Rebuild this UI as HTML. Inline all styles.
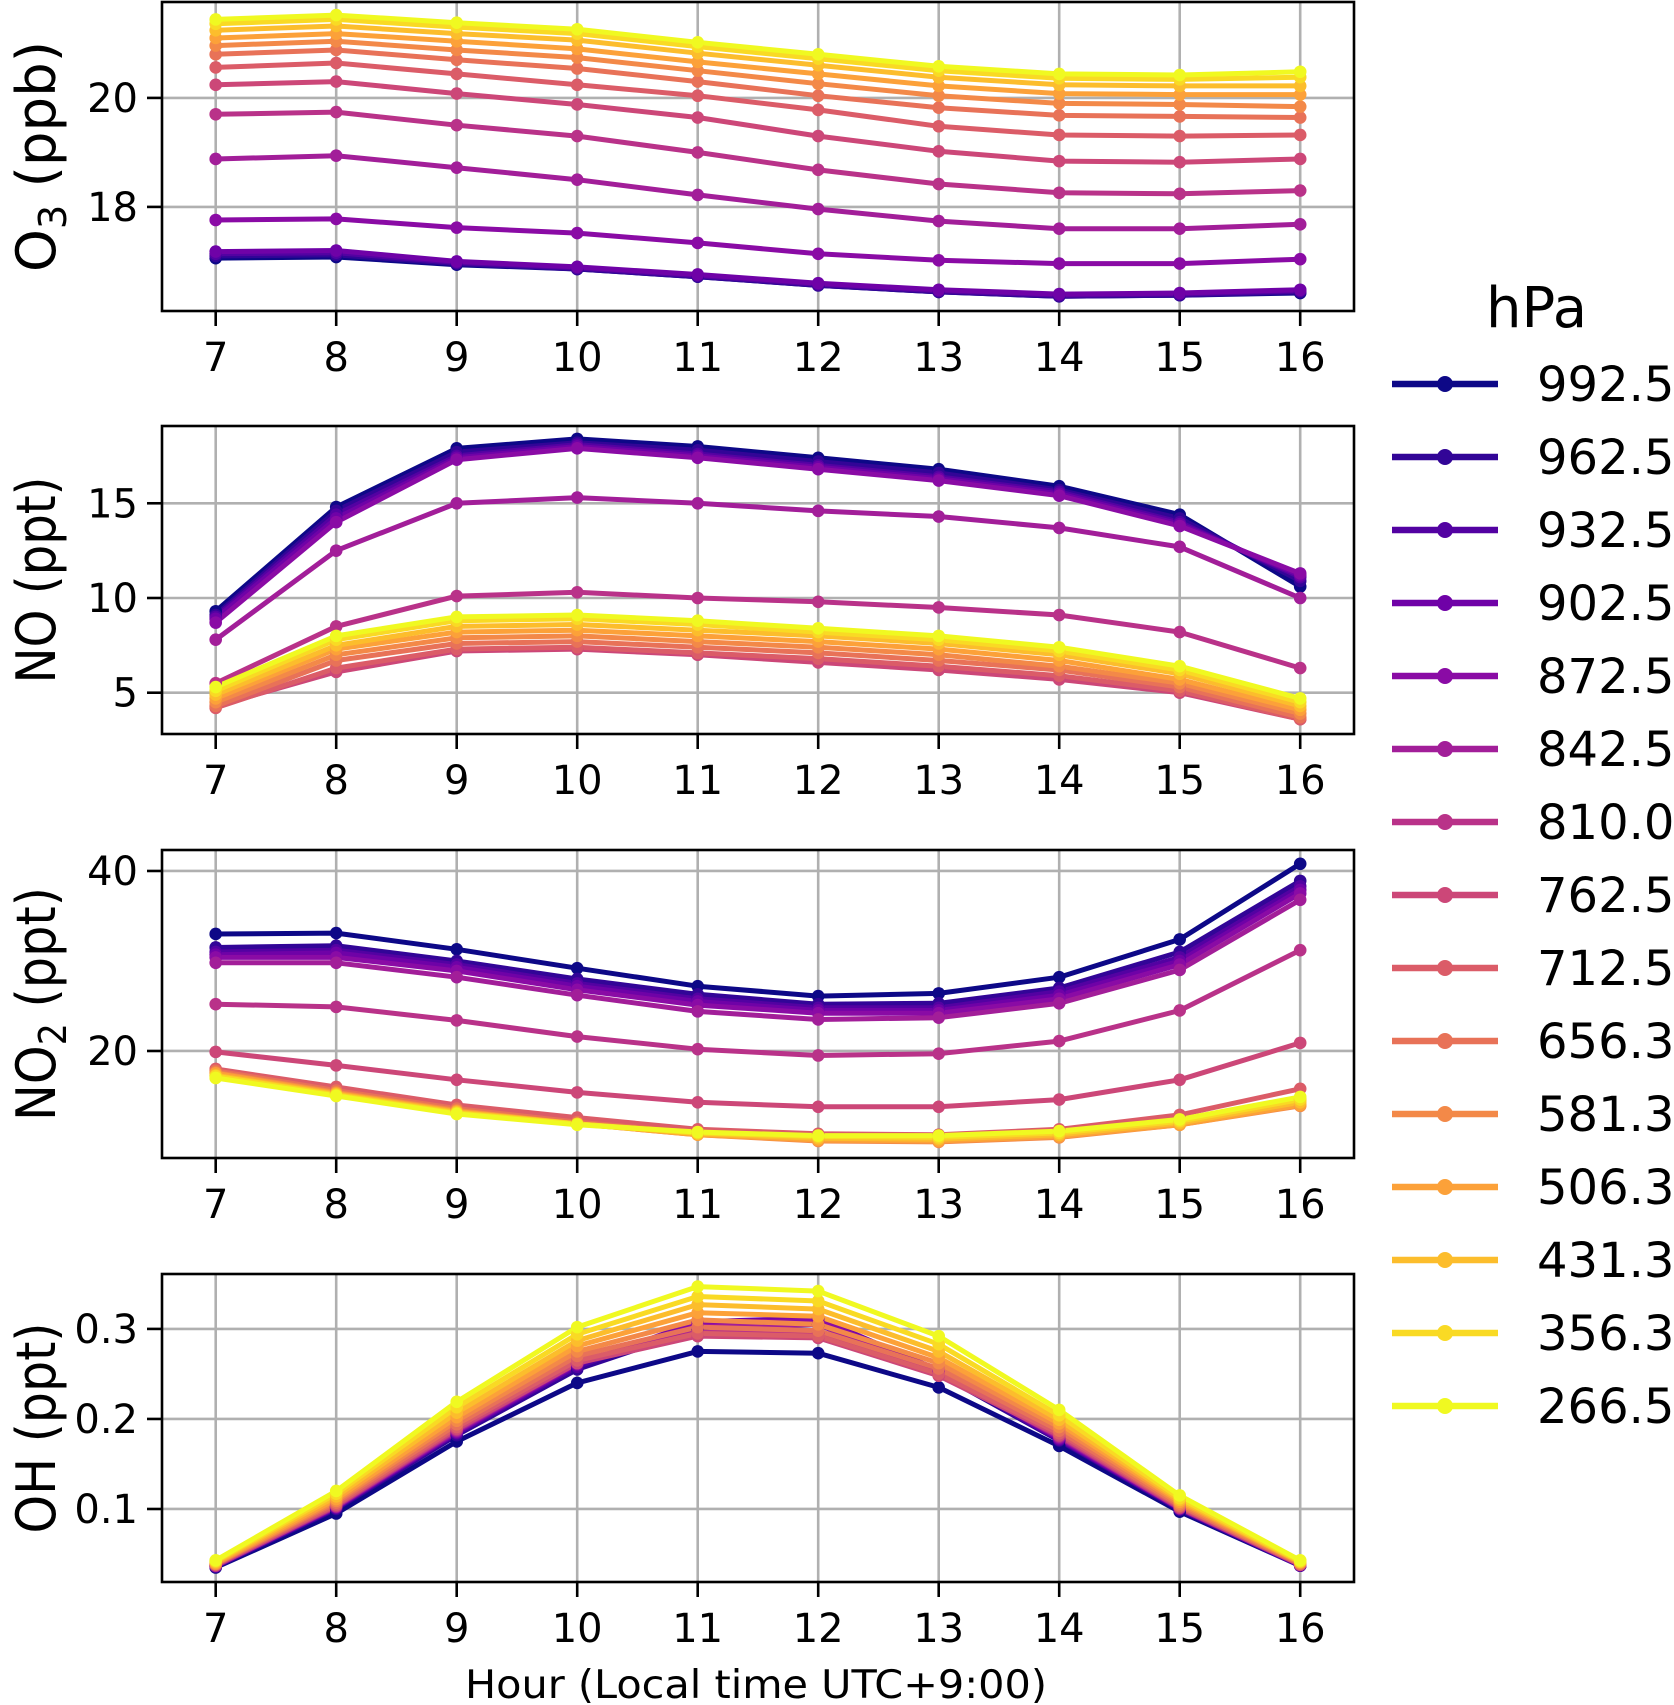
<!DOCTYPE html>
<html><head><meta charset="utf-8"><style>
html,body{margin:0;padding:0;background:#fff;}
svg{display:block;font-family:"DejaVu Sans","Liberation Sans",sans-serif;}
</style></head><body>
<svg id="fig" width="1674" height="1705" viewBox="0 0 1674 1705" xmlns="http://www.w3.org/2000/svg"></svg>
<script>
const hours = [7,8,9,10,11,12,13,14,15,16];
const levels = ["992.5","962.5","932.5","902.5","872.5","842.5","810.0","762.5","712.5","656.3","581.3","506.3","431.3","356.3","266.5"];
const colors = ["#0d0887","#320597","#5302a2","#6f02a7","#8a0ba5","#a21e99","#b93289","#cc4778","#db5c68","#e87258","#f38948","#fca139","#fcbd2c","#f9da24","#f0f921"];
const o3Values = [
 [17.06,17.08,16.94,16.86,16.72,16.56,16.44,16.36,16.38,16.42],
 [17.10,17.12,16.96,16.86,16.72,16.56,16.44,16.36,16.38,16.44],
 [17.14,17.16,16.98,16.88,16.74,16.58,16.46,16.38,16.40,16.46],
 [17.18,17.20,17.00,16.90,16.76,16.60,16.48,16.40,16.42,16.48],
 [17.76,17.78,17.62,17.52,17.34,17.14,17.02,16.96,16.96,17.04],
 [18.88,18.94,18.72,18.50,18.22,17.96,17.74,17.60,17.60,17.68],
 [19.70,19.74,19.50,19.30,19.00,18.68,18.42,18.26,18.24,18.30],
 [20.24,20.30,20.08,19.88,19.64,19.30,19.02,18.84,18.82,18.88],
 [20.56,20.64,20.44,20.24,20.04,19.78,19.48,19.32,19.30,19.32],
 [20.80,20.88,20.70,20.54,20.30,20.04,19.82,19.68,19.66,19.64],
 [20.96,21.04,20.88,20.74,20.50,20.26,20.04,19.90,19.88,19.84],
 [21.10,21.18,21.04,20.90,20.66,20.44,20.22,20.08,20.06,20.06],
 [21.24,21.32,21.18,21.06,20.82,20.60,20.38,20.24,20.22,20.22],
 [21.36,21.44,21.30,21.18,20.94,20.72,20.50,20.36,20.34,20.38],
 [21.44,21.52,21.38,21.26,21.02,20.80,20.58,20.44,20.42,20.48]
];
const noValues = [
 [9.3,14.8,17.9,18.4,18.0,17.4,16.8,15.9,14.4,10.6],
 [9.1,14.6,17.7,18.2,17.8,17.2,16.6,15.7,14.2,10.9],
 [9.0,14.4,17.5,18.1,17.6,17.0,16.4,15.6,14.0,11.1],
 [8.9,14.2,17.4,18.0,17.5,16.9,16.3,15.5,13.9,11.2],
 [8.7,14.0,17.3,17.9,17.4,16.8,16.2,15.4,13.8,11.3],
 [7.8,12.5,15.0,15.3,15.0,14.6,14.3,13.7,12.7,10.0],
 [5.5,8.5,10.1,10.3,10.0,9.8,9.5,9.1,8.2,6.3],
 [4.3,6.1,7.2,7.3,7.0,6.6,6.2,5.7,5.0,3.6],
 [4.2,6.3,7.3,7.4,7.1,6.8,6.4,5.9,5.1,3.6],
 [4.3,6.7,7.6,7.7,7.4,7.1,6.7,6.2,5.3,3.7],
 [4.5,7.0,7.9,8.0,7.7,7.4,7.0,6.4,5.5,3.9],
 [4.7,7.3,8.2,8.3,8.0,7.7,7.3,6.7,5.7,4.1],
 [4.9,7.5,8.5,8.6,8.3,8.0,7.6,7.0,6.0,4.3],
 [5.1,7.8,8.8,8.9,8.6,8.2,7.8,7.2,6.2,4.5],
 [5.3,8.0,9.0,9.1,8.8,8.4,8.0,7.4,6.4,4.7]
];
const no2Values = [
 [33.0,33.1,31.3,29.2,27.2,26.1,26.4,28.2,32.4,40.8],
 [31.5,31.7,30.0,28.0,26.3,25.2,25.3,27.0,31.0,38.9],
 [31.0,31.2,29.6,27.5,25.8,24.8,24.8,26.6,30.4,38.3],
 [30.7,30.9,29.3,27.2,25.5,24.5,24.5,26.2,30.0,37.9],
 [30.4,30.4,28.9,26.8,25.1,24.2,24.2,25.8,29.6,37.5],
 [29.8,29.8,28.2,26.2,24.4,23.5,23.7,25.3,29.0,36.8],
 [25.2,24.9,23.4,21.6,20.2,19.5,19.7,21.1,24.5,31.2],
 [19.9,18.4,16.8,15.4,14.3,13.8,13.8,14.6,16.8,20.9],
 [18.0,16.0,14.0,12.6,11.3,10.8,10.7,11.3,12.9,15.8],
 [17.8,15.6,13.6,12.1,10.9,10.3,10.2,10.7,12.2,14.6],
 [17.6,15.4,13.4,11.9,10.7,10.0,9.9,10.4,11.8,13.9],
 [17.5,15.3,13.3,11.9,10.7,10.1,10.0,10.5,11.8,14.0],
 [17.3,15.2,13.2,11.9,10.8,10.3,10.2,10.7,12.0,14.3],
 [17.2,15.1,13.1,11.9,10.9,10.5,10.4,10.9,12.2,14.6],
 [17.0,15.0,13.0,11.8,11.0,10.6,10.6,11.1,12.4,14.9]
];
const ohValues = [
 [0.035,0.095,0.175,0.240,0.275,0.273,0.235,0.170,0.097,0.037],
 [0.036,0.100,0.182,0.255,0.300,0.305,0.250,0.176,0.099,0.037],
 [0.036,0.101,0.184,0.258,0.305,0.310,0.252,0.177,0.100,0.037],
 [0.037,0.102,0.185,0.260,0.308,0.312,0.254,0.178,0.100,0.038],
 [0.037,0.102,0.186,0.261,0.306,0.310,0.254,0.179,0.101,0.038],
 [0.037,0.103,0.187,0.262,0.302,0.305,0.252,0.180,0.101,0.038],
 [0.037,0.103,0.188,0.262,0.296,0.296,0.250,0.181,0.101,0.038],
 [0.038,0.104,0.189,0.262,0.292,0.290,0.248,0.182,0.102,0.038],
 [0.038,0.105,0.191,0.265,0.295,0.292,0.250,0.184,0.103,0.039],
 [0.039,0.107,0.194,0.270,0.302,0.298,0.256,0.187,0.104,0.039],
 [0.039,0.109,0.198,0.275,0.310,0.305,0.262,0.191,0.106,0.040],
 [0.040,0.111,0.202,0.281,0.318,0.314,0.268,0.195,0.108,0.041],
 [0.041,0.114,0.207,0.287,0.327,0.322,0.275,0.199,0.110,0.041],
 [0.042,0.117,0.213,0.294,0.336,0.331,0.283,0.204,0.112,0.042],
 [0.043,0.120,0.219,0.302,0.347,0.342,0.292,0.210,0.115,0.043]
];
const o3Ticks = [18,20];
const noTicks = [5,10,15];
const no2Ticks = [20,40];
const ohTicks = [0.1,0.2,0.3];
const ohTickLabels = ["0.1","0.2","0.3"];

const NS = "http://www.w3.org/2000/svg";
const svg = document.getElementById("fig");
function mk(tag, attrs, parent){
  const e = document.createElementNS(NS, tag);
  for (const k in attrs) e.setAttribute(k, attrs[k]);
  (parent||svg).appendChild(e);
  return e;
}
const X0 = 162, X1 = 1354;
function xScale(h){ return 215.7 + (h - 7) * 120.5; }

const panels = [
  {key:"o3", top:2, bottom:311, lo:16.09, hi:21.76, ticks:o3Ticks, labels:o3Ticks.map(String), data:o3Values, label:"O", sub:"3", rest:" (ppb)", len:231},
  {key:"no", top:426, bottom:734, lo:2.82, hi:19.08, ticks:noTicks, labels:noTicks.map(String), data:noValues, label:"NO (ppt)", sub:null, rest:"", len:207},
  {key:"no2", top:850, bottom:1158, lo:8.11, hi:42.33, ticks:no2Ticks, labels:no2Ticks.map(String), data:no2Values, label:"NO", sub:"2", rest:" (ppt)", len:234},
  {key:"oh", top:1274, bottom:1582, lo:0.0189, hi:0.361, ticks:ohTicks, labels:ohTickLabels, data:ohValues, label:"OH (ppt)", sub:null, rest:"", len:211}
];

const defs = mk("defs", {});
panels.forEach(function(p, pi){
  const g = mk("g", {});
  
  
  const yScale = function(v){ return p.bottom - (v - p.lo) / (p.hi - p.lo) * (p.bottom - p.top); };
  const cp = mk("clipPath", {id:"clip"+pi}, defs);
  mk("rect", {x:X0, y:p.top, width:X1-X0, height:p.bottom-p.top}, cp);
  hours.forEach(function(h){
    const l = mk("line", {x1:xScale(h), x2:xScale(h), y1:p.top, y2:p.bottom, stroke:"#b0b0b0", "stroke-width":2.6}, g);
    
    
  });
  p.ticks.forEach(function(t){
    const l = mk("line", {x1:X0, x2:X1, y1:yScale(t), y2:yScale(t), stroke:"#b0b0b0", "stroke-width":2.6}, g);
    
    
  });
  const sg = mk("g", {"clip-path":"url(#clip"+pi+")"}, g);
  p.data.forEach(function(vals, si){
    const pts = vals.map(function(v, i){ return xScale(hours[i]).toFixed(1) + "," + yScale(v).toFixed(1); }).join(" ");
    const line = mk("polyline", {points:pts, fill:"none", stroke:colors[si], "stroke-width":5, "stroke-linejoin":"round"}, sg);
    
    
    vals.forEach(function(v, i){
      const c = mk("circle", {cx:xScale(hours[i]), cy:yScale(v), r:6.3, fill:colors[si]}, g);
      
      
    });
  });
  const fr = mk("rect", {x:X0, y:p.top, width:X1-X0, height:p.bottom-p.top, fill:"none", stroke:"#000", "stroke-width":2.6}, g);
  
  
  hours.forEach(function(h){
    mk("line", {x1:xScale(h), x2:xScale(h), y1:p.bottom, y2:p.bottom+15, stroke:"#000", "stroke-width":2.6}, g);
    const t = mk("text", {x:xScale(h), y:p.bottom+60, "font-size":40, "text-anchor":"middle", fill:"#000"}, g);
    t.textContent = h;
    
    
  });
  p.ticks.forEach(function(tv, ti){
    mk("line", {x1:X0-15, x2:X0, y1:yScale(tv), y2:yScale(tv), stroke:"#000", "stroke-width":2.6}, g);
    const t = mk("text", {x:X0-24, y:yScale(tv)+14, "font-size":40, "text-anchor":"end", fill:"#000"}, g);
    t.textContent = p.labels[ti];
    
    
  });
  const cy = (p.top + p.bottom) / 2;
  const yl = mk("text", {x:0, y:0, "font-size":54, "text-anchor":"middle", fill:"#000", transform:"translate(55," + cy + ") rotate(-90)", textLength:p.len, lengthAdjust:"spacingAndGlyphs"}, g);
  
  
  if (p.sub){
    const a = mk("tspan", {}, yl); a.textContent = p.label;
    const b = mk("tspan", {dy:11, "font-size":38}, yl); b.textContent = p.sub;
    const c = mk("tspan", {dy:-11}, yl); c.textContent = p.rest;
  } else {
    yl.textContent = p.label;
  }
});
const xl = mk("text", {x:465, y:1698, "font-size":39, fill:"#000", textLength:582, lengthAdjust:"spacingAndGlyphs"});
xl.textContent = "Hour (Local time UTC+9:00)";


const lg = mk("g", {});


const lt = mk("text", {x:1486, y:327, "font-size":56, fill:"#000"}, lg);
lt.textContent = "hPa";


levels.forEach(function(lv, i){
  const y = 384 + i * 73;
  const eg = mk("g", {}, lg);
  
  
  mk("line", {x1:1392, x2:1498, y1:y, y2:y, stroke:colors[i], "stroke-width":6.5}, eg);
  mk("circle", {cx:1445, cy:y, r:8, fill:colors[i]}, eg);
  const t = mk("text", {x:1537, y:y+17, "font-size":48, fill:"#000"}, eg);
  t.textContent = lv;
});
</script>
</body></html>
